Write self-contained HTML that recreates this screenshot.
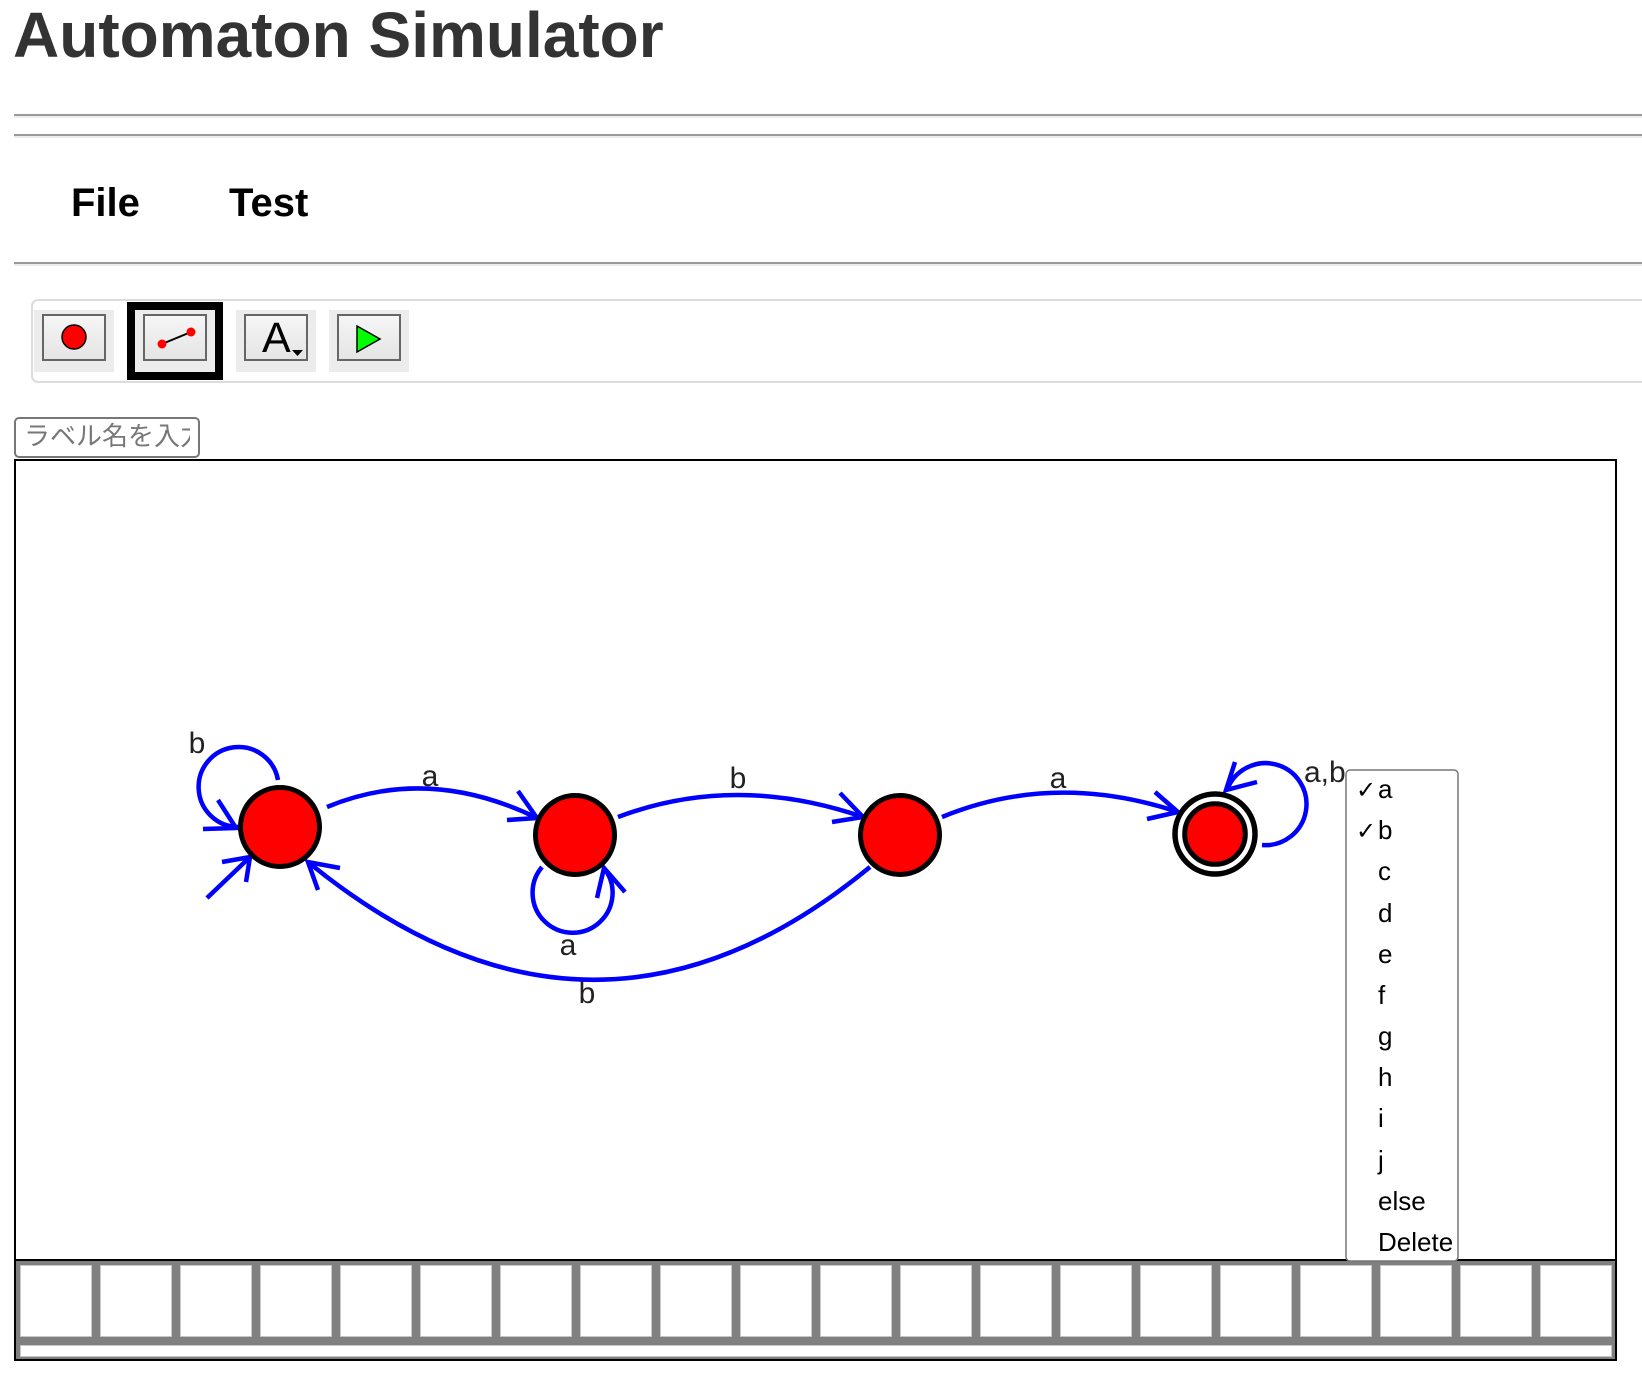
<!DOCTYPE html>
<html>
<head>
<meta charset="utf-8">
<style>
html,body{margin:0;padding:0;background:#fff;}
body{width:1642px;height:1380px;overflow:hidden;position:relative;}
svg{position:absolute;left:0;top:0;}
</style>
</head>
<body>
<svg width="1642" height="1380" viewBox="0 0 1642 1380" xmlns="http://www.w3.org/2000/svg">
  <defs>
    <linearGradient id="btn" x1="0" y1="0" x2="0" y2="1">
      <stop offset="0" stop-color="#f6f6f6"/>
      <stop offset="1" stop-color="#e4e4e4"/>
    </linearGradient>
    <clipPath id="inclip"><rect x="16" y="419" width="174" height="37"/></clipPath>
  </defs>

  <!-- Title -->
  <text x="13" y="57" font-family="Liberation Sans, Arial, sans-serif" font-weight="bold" font-size="64" fill="#333">Automaton Simulator</text>

  <!-- rules -->
  <rect x="14" y="114" width="1628" height="2" fill="#9a9a9a"/>
  <rect x="14" y="116" width="1628" height="2" fill="#ececec"/>
  <rect x="14" y="134" width="1628" height="2" fill="#9a9a9a"/>
  <rect x="14" y="136" width="1628" height="2" fill="#ececec"/>

  <!-- menu -->
  <text x="71" y="216" font-family="Liberation Sans, Arial, sans-serif" font-weight="bold" font-size="40" fill="#000">File</text>
  <text x="229" y="216" font-family="Liberation Sans, Arial, sans-serif" font-weight="bold" font-size="40" fill="#000">Test</text>

  <rect x="14" y="262" width="1628" height="2" fill="#9a9a9a"/>
  <rect x="14" y="264" width="1628" height="2" fill="#ececec"/>

  <!-- toolbar -->
  <rect x="32" y="300" width="1640" height="82" rx="6" fill="#fff" stroke="#dcdcdc" stroke-width="2"/>

  <!-- button 1: state -->
  <rect x="34" y="310" width="80" height="62" fill="#ececec"/>
  <rect x="43" y="315" width="62" height="45" fill="url(#btn)" stroke="#666" stroke-width="2"/>
  <circle cx="74" cy="337" r="12" fill="#f00" stroke="#000" stroke-width="1.5"/>

  <!-- button 2: transition (selected) -->
  <rect x="131" y="306" width="88" height="70" fill="#ececec" stroke="#000" stroke-width="8"/>
  <rect x="144" y="315" width="62" height="45" fill="url(#btn)" stroke="#666" stroke-width="2"/>
  <line x1="162" y1="344" x2="191" y2="332" stroke="#000" stroke-width="2"/>
  <circle cx="162" cy="344" r="4.5" fill="#f00"/>
  <circle cx="191" cy="332" r="4.5" fill="#f00"/>

  <!-- button 3: label -->
  <rect x="236" y="310" width="80" height="62" fill="#ececec"/>
  <rect x="245" y="315" width="62" height="45" fill="url(#btn)" stroke="#666" stroke-width="2"/>
  <text x="262" y="352" font-family="Liberation Sans, Arial, sans-serif" font-size="43" fill="#000">A</text>
  <polygon points="292,350 303,350 297.5,356" fill="#000"/>

  <!-- button 4: run -->
  <rect x="329" y="310" width="80" height="62" fill="#ececec"/>
  <rect x="338" y="315" width="62" height="45" fill="url(#btn)" stroke="#666" stroke-width="2"/>
  <polygon points="357,326 357,352 380,339" fill="#0f0" stroke="#000" stroke-width="1.5"/>

  <!-- label input -->
  <rect x="15" y="418" width="184" height="39" rx="4" fill="#fff" stroke="#777" stroke-width="2"/>
  <g clip-path="url(#inclip)">
    <text x="24" y="445" font-family="Liberation Sans, Noto Sans CJK JP, sans-serif" font-size="26" fill="#777">ラベル名を入力</text>
  </g>

  <!-- canvas -->
  <rect x="15" y="460" width="1601" height="900" fill="#fff" stroke="#000" stroke-width="2"/>
  <rect x="16" y="1261" width="1599" height="98" fill="#808080"/>
  <line x1="15" y1="1260" x2="1616" y2="1260" stroke="#000" stroke-width="2"/>
  <g fill="#fff" stroke="#c8c8c8" stroke-width="1">
    <rect x="20.5" y="1265.5" width="71" height="71"/>
    <rect x="100.5" y="1265.5" width="71" height="71"/>
    <rect x="180.5" y="1265.5" width="71" height="71"/>
    <rect x="260.5" y="1265.5" width="71" height="71"/>
    <rect x="340.5" y="1265.5" width="71" height="71"/>
    <rect x="420.5" y="1265.5" width="71" height="71"/>
    <rect x="500.5" y="1265.5" width="71" height="71"/>
    <rect x="580.5" y="1265.5" width="71" height="71"/>
    <rect x="660.5" y="1265.5" width="71" height="71"/>
    <rect x="740.5" y="1265.5" width="71" height="71"/>
    <rect x="820.5" y="1265.5" width="71" height="71"/>
    <rect x="900.5" y="1265.5" width="71" height="71"/>
    <rect x="980.5" y="1265.5" width="71" height="71"/>
    <rect x="1060.5" y="1265.5" width="71" height="71"/>
    <rect x="1140.5" y="1265.5" width="71" height="71"/>
    <rect x="1220.5" y="1265.5" width="71" height="71"/>
    <rect x="1300.5" y="1265.5" width="71" height="71"/>
    <rect x="1380.5" y="1265.5" width="71" height="71"/>
    <rect x="1460.5" y="1265.5" width="71" height="71"/>
    <rect x="1540.5" y="1265.5" width="71" height="71"/>
    <rect x="20.5" y="1345.5" width="1591" height="11"/>
  </g>
  <rect x="1615" y="460" width="2" height="900" fill="#000"/>

  <!-- edges -->
  <g fill="none" stroke="#0000ff" stroke-width="4.5" stroke-linejoin="miter">
    <path d="M327,807 Q428,765 537,818"/>
    <polyline points="518,791 537,818 507,820"/>
    <path d="M618,817 Q735,773 863,817"/>
    <polyline points="840,793 863,817 832,822"/>
    <path d="M942,817 Q1054,771 1178,812"/>
    <polyline points="1155,792 1178,812 1147,819"/>
    <path d="M870,867 Q593,1095 308,862"/>
    <polyline points="340,868 308,862 318,890"/>
    <path d="M278,780 A40,40 0 1 0 238,827"/>
    <polyline points="218,800 236,828 203,829"/>
    <line x1="207" y1="898" x2="250" y2="857"/>
    <polyline points="222,862 250,857 246,882"/>
    <path d="M542,867 A40,40 0 1 0 604,868"/>
    <polyline points="597,898 604,868 625,892"/>
    <path d="M1262,845 A41,41 0 1 0 1227,790"/>
    <polyline points="1235,762 1226,790 1257,782"/>
  </g>

  <!-- nodes -->
  <circle cx="280" cy="827" r="39.5" fill="#f00" stroke="#000" stroke-width="5"/>
  <circle cx="575" cy="835" r="39.5" fill="#f00" stroke="#000" stroke-width="5"/>
  <circle cx="900" cy="835" r="39.5" fill="#f00" stroke="#000" stroke-width="5"/>
  <circle cx="1215" cy="834" r="40" fill="#fff" stroke="#000" stroke-width="5.5"/>
  <circle cx="1215" cy="834" r="30.3" fill="#f00" stroke="#000" stroke-width="5"/>

  <!-- edge labels -->
  <g font-family="Liberation Sans, Arial, sans-serif" font-size="30" fill="#222" text-anchor="middle">
    <text x="197" y="753">b</text>
    <text x="430" y="786">a</text>
    <text x="568" y="955">a</text>
    <text x="587" y="1003">b</text>
    <text x="738" y="788">b</text>
    <text x="1058" y="788">a</text>
  </g>
  <text x="1304" y="782" font-family="Liberation Sans, Arial, sans-serif" font-size="30" fill="#222">a,b</text>

  <!-- dropdown -->
  <rect x="1346" y="770" width="112" height="491" rx="4" fill="#fff" stroke="#777" stroke-width="1.5"/>
  <g font-family="DejaVu Sans, sans-serif" font-size="24" fill="#000">
    <text x="1356" y="798">✓</text>
    <text x="1356" y="839">✓</text>
  </g>
  <g font-family="Liberation Sans, Arial, sans-serif" font-size="26" fill="#000">
    <text x="1378" y="798">a</text>
    <text x="1378" y="839">b</text>
    <text x="1378" y="880">c</text>
    <text x="1378" y="922">d</text>
    <text x="1378" y="963">e</text>
    <text x="1378" y="1004">f</text>
    <text x="1378" y="1045">g</text>
    <text x="1378" y="1086">h</text>
    <text x="1378" y="1127">i</text>
    <text x="1378" y="1169">j</text>
    <text x="1378" y="1210">else</text>
    <text x="1378" y="1251">Delete</text>
  </g>
</svg>
</body>
</html>
